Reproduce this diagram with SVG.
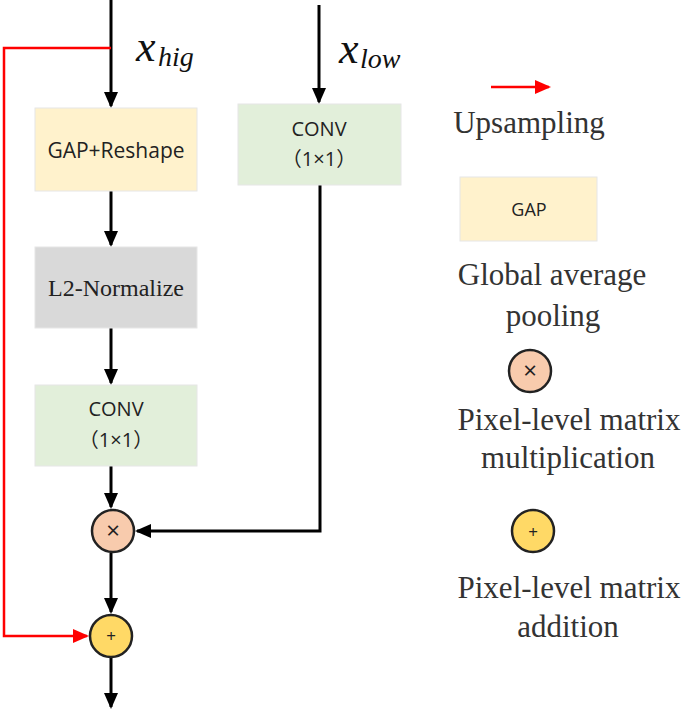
<svg xmlns="http://www.w3.org/2000/svg" width="685" height="709" viewBox="0 0 685 709">
<style>
.box{stroke:#e6e6e6;stroke-width:1}
.sans{font-family:'Open Sans','Noto Sans CJK SC',sans-serif;fill:#222;text-anchor:middle}
.serif{font-family:'Liberation Serif','DejaVu Serif',serif;fill:#333;text-anchor:middle}
.math{font-family:'Liberation Serif','DejaVu Serif',serif;font-style:italic;fill:#111}
.blk{stroke:#000;stroke-width:3;fill:none}
.red{stroke:#ff0000;stroke-width:2.5;fill:none}
.circ{stroke:#222;stroke-width:2.5}
</style>
<defs>
<marker id="ab" markerUnits="userSpaceOnUse" markerWidth="18" markerHeight="16" refX="14" refY="7" orient="auto">
<path d="M0,0 L16,7 L0,14 z" fill="#000"/>
</marker>
<marker id="ar" markerUnits="userSpaceOnUse" markerWidth="18" markerHeight="16" refX="14" refY="7" orient="auto">
<path d="M0,0 L16,7 L0,14 z" fill="#ff0000"/>
</marker>
</defs>
<rect width="685" height="709" fill="#fff"/>
<g id="connectors">
<line class="blk" x1="111" y1="0" x2="111" y2="106" marker-end="url(#ab)"/>
<line class="blk" x1="111" y1="191" x2="111" y2="245" marker-end="url(#ab)"/>
<line class="blk" x1="111" y1="328" x2="111" y2="383" marker-end="url(#ab)"/>
<line class="blk" x1="111" y1="466" x2="111" y2="507" marker-end="url(#ab)"/>
<line class="blk" x1="111" y1="553" x2="111" y2="612" marker-end="url(#ab)"/>
<line class="blk" x1="111" y1="658" x2="111" y2="707" marker-end="url(#ab)"/>
<line class="blk" x1="319" y1="5" x2="319" y2="102" marker-end="url(#ab)"/>
<polyline class="blk" points="320,185 320,531 137,531" marker-end="url(#ab)"/>
<polyline class="red" points="111,48 4,48 4,636 87,636" marker-end="url(#ar)"/>
<line class="red" x1="491" y1="87" x2="549" y2="87" marker-end="url(#ar)"/>
</g>
<g id="label-xhig">
<text class="math" x="136" y="61" font-size="44">x</text>
<text class="math" x="158" y="66" font-size="28">hig</text>
</g>
<g id="label-xlow">
<text class="math" x="339" y="63" font-size="44">x</text>
<text class="math" x="360" y="68" font-size="28">low</text>
</g>
<g id="gap-reshape">
<rect class="box" x="35" y="108" width="162" height="83" fill="#fff2cc"/>
<text class="sans" x="116" y="158" font-size="21">GAP+Reshape</text>
</g>
<g id="l2-normalize">
<rect class="box" x="35" y="247" width="162" height="81" fill="#d9d9d9"/>
<text class="serif" x="116" y="296" font-size="24" style="fill:#222">L2-Normalize</text>
</g>
<g id="conv-left">
<rect class="box" x="35" y="385" width="162" height="81" fill="#e2efda"/>
<text class="sans" x="116" y="416" font-size="20">CONV</text>
<text class="sans" x="116" y="447" font-size="20">（1×1）</text>
</g>
<g id="conv-right">
<rect class="box" x="238" y="104" width="163" height="81" fill="#e2efda"/>
<text class="sans" x="319" y="136" font-size="20">CONV</text>
<text class="sans" x="319" y="166" font-size="20">（1×1）</text>
</g>
<g id="multiply">
<circle class="circ" cx="113" cy="531" r="21" fill="#f8cbad"/>
<text class="sans" x="113" y="539" font-size="24">×</text>
</g>
<g id="add">
<circle class="circ" cx="111" cy="636" r="21" fill="#ffd966"/>
<text class="sans" x="111" y="642" font-size="17">+</text>
</g>
<g id="legend">
<text class="serif" x="529" y="133" font-size="31">Upsampling</text>
<rect class="box" x="460" y="177" width="137" height="64" fill="#fff2cc"/>
<text class="sans" x="529" y="216" font-size="18">GAP</text>
<text class="serif" x="552" y="285" font-size="31">Global average</text>
<text class="serif" x="553" y="326" font-size="31">pooling</text>
<circle class="circ" cx="530" cy="371" r="21" fill="#f8cbad"/>
<text class="sans" x="530" y="379" font-size="24">×</text>
<text class="serif" x="569" y="430" font-size="31">Pixel-level matrix</text>
<text class="serif" x="568" y="468" font-size="31">multiplication</text>
<circle class="circ" cx="533" cy="531" r="21" fill="#ffd966"/>
<text class="sans" x="533" y="538" font-size="17">+</text>
<text class="serif" x="569" y="598" font-size="31">Pixel-level matrix</text>
<text class="serif" x="568" y="637" font-size="31">addition</text>
</g>
</svg>
